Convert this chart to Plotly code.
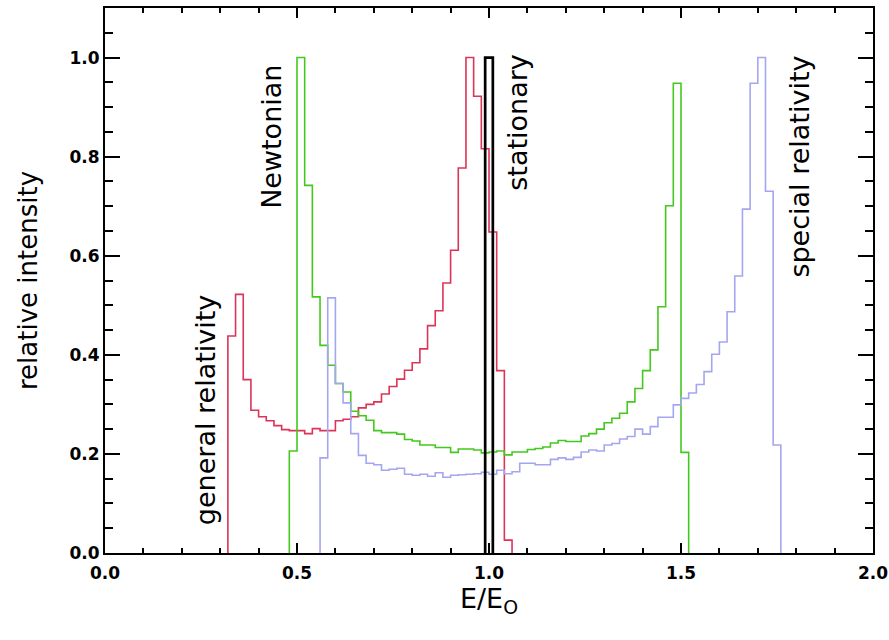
import plotly.graph_objects as go

BIN = 0.02

# general relativity (red)
gr_start = 0.32
gr_vals = [0.438, 0.522, 0.350, 0.288, 0.275, 0.267, 0.257, 0.249, 0.247, 0.247,
           0.241, 0.251, 0.247, 0.247, 0.267, 0.270, 0.275, 0.293, 0.300, 0.305,
           0.321, 0.336, 0.351, 0.369, 0.384, 0.412, 0.459, 0.489, 0.545, 0.611,
           0.777, 1.000, 0.922, 0.816, 0.648, 0.368, 0.026]

# Newtonian (green)
nw_start = 0.48
nw_vals = [0.206, 1.000, 0.742, 0.517, 0.419, 0.379, 0.342, 0.325, 0.286, 0.277,
           0.268, 0.247, 0.243, 0.243, 0.240, 0.229, 0.226, 0.218, 0.218, 0.213,
           0.213, 0.203, 0.210, 0.210, 0.208, 0.202, 0.204, 0.206, 0.198, 0.204,
           0.204, 0.209, 0.211, 0.214, 0.222, 0.227, 0.225, 0.225, 0.236, 0.241,
           0.250, 0.263, 0.272, 0.282, 0.305, 0.332, 0.368, 0.410, 0.497, 0.701,
           0.948, 0.203]

# special relativity (blue)
sr_start = 0.56
sr_vals = [0.192, 0.515, 0.342, 0.303, 0.241, 0.197, 0.181, 0.178, 0.167, 0.169,
           0.171, 0.159, 0.157, 0.159, 0.155, 0.162, 0.153, 0.157, 0.158, 0.159,
           0.160, 0.163, 0.159, 0.167, 0.160, 0.164, 0.181, 0.181, 0.178, 0.178,
           0.189, 0.192, 0.189, 0.193, 0.204, 0.208, 0.206, 0.218, 0.221, 0.230,
           0.235, 0.250, 0.240, 0.255, 0.274, 0.274, 0.299, 0.312, 0.323, 0.340,
           0.366, 0.401, 0.426, 0.487, 0.559, 0.694, 0.948, 1.000, 0.730, 0.218]

# stationary (black)
st_start = 0.99
st_vals = [1.0]

x_ticks = [0.0, 0.5, 1.0, 1.5, 2.0]
x_ticklabels = ["0.0", "0.5", "1.0", "1.5", "2.0"]
y_ticks = [0.0, 0.2, 0.4, 0.6, 0.8, 1.0]
y_ticklabels = ["0.0", "0.2", "0.4", "0.6", "0.8", "1.0"]


def step_xy(start, vals):
    edges = [round(start + BIN * i, 4) for i in range(len(vals) + 1)]
    xs = [edges[0]] + edges
    ys = [0.0] + list(vals) + [0.0]
    return xs, ys


fig = go.Figure()
for start, vals, color, width in [
    (gr_start, gr_vals, "#dc3458", 1.6),
    (nw_start, nw_vals, "#44c81e", 1.6),
    (sr_start, sr_vals, "#a4a6f0", 1.6),
    (st_start, st_vals, "#000000", 2.7),
]:
    xs, ys = step_xy(start, vals)
    fig.add_trace(go.Scatter(x=xs, y=ys, mode="lines", line=dict(color=color, width=width, shape="hv"),
                             hoverinfo="skip", showlegend=False))

ann_font = dict(family="DejaVu Sans", size=27, color="black")
for text, x, y in [
    ("general relativity", 0.26, 0.29),
    ("Newtonian", 0.435, 0.84),
    ("stationary", 1.075, 0.87),
    ("special relativity", 1.81, 0.78),
]:
    fig.add_annotation(x=x, y=y, text=text, showarrow=False, textangle=-90,
                       font=ann_font, xanchor="center", yanchor="middle")

axis_common = dict(
    showline=True, linecolor="black", linewidth=2, mirror="allticks",
    ticks="inside", tickcolor="black", tickwidth=2,
    showgrid=False, zeroline=False, automargin=False,
    tickfont=dict(family="DejaVu Sans", size=17, color="black", weight="bold"),
)

fig.update_xaxes(range=[0, 2], tickvals=x_ticks, ticktext=x_ticklabels, ticklen=10,
                 ticklabelstandoff=4,
                 minor=dict(dtick=0.1, tick0=0, ticks="inside", ticklen=5, tickwidth=2, tickcolor="black", showgrid=False),
                 title=dict(text="E/E<sub>O</sub>", font=dict(family="DejaVu Sans", size=27, color="black"), standoff=4),
                 **axis_common)
fig.update_yaxes(range=[0, 1.1], tickvals=y_ticks, ticktext=y_ticklabels, ticklen=15,
                 minor=dict(dtick=0.05, tick0=0, ticks="inside", ticklen=8, tickwidth=2, tickcolor="black", showgrid=False),
                 title=dict(text="relative intensity", font=dict(family="DejaVu Sans", size=26, color="black"), standoff=24),
                 **axis_common)

fig.update_layout(width=889, height=640, margin=dict(l=105, r=16, t=8, b=87),
                  plot_bgcolor="white", paper_bgcolor="white")

fig.write_html("out.html")
